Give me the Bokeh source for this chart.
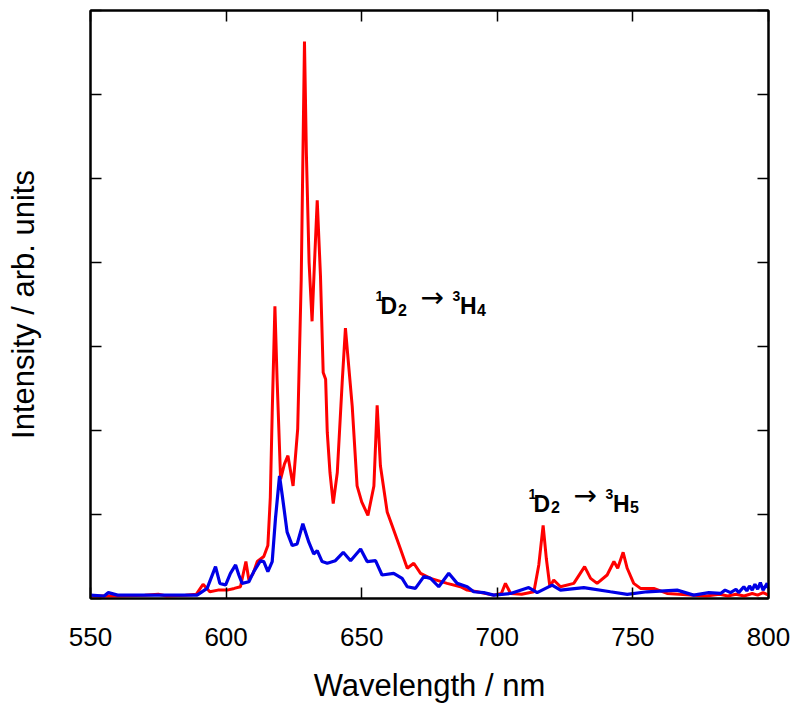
from bokeh.plotting import figure
from bokeh.models import Range1d, LinearAxis, FixedTicker, ColumnDataSource
from bokeh.embed import file_html
from bokeh.resources import INLINE

# ---- data ----
red_nm = [550, 560, 570, 575, 578, 585, 589, 591.5, 594, 597, 600.4, 603, 605.3, 607.3, 608.4,
          610, 611.5, 613.9, 615.4, 616.3, 617, 618, 618.8, 620.1, 621.5, 622.8, 624.7, 626.4,
          627.7, 628.9, 629.6, 630.6, 631.7, 632.6, 633.6, 634.8, 635.8, 636.7, 637.3, 638.3,
          639.5, 641, 642.8, 644.0, 645.2, 646.5, 648.3, 650, 652.3, 654.5, 655.7, 656.9, 659.4,
          661.2, 664.3, 666.8, 669.2, 671.7, 675.4, 681.5, 686.4, 688.9, 692.6, 698.6, 701.5,
          703, 704.9, 709, 713.5, 715.3, 716.9, 718.1, 719.4, 720.8, 723.3, 728.2, 732.2, 734.4,
          736.8, 740.5, 743, 744.4, 746.4, 747.9, 750.3, 752.8, 757.7, 762.6, 767, 772.4, 777,
          782, 785, 788, 791, 794, 796, 798, 800]
red_int = [0.03, 0.03, 0.04, 0.05, 0.03, 0.04, 0.05, 0.17, 0.08, 0.10, 0.10, 0.12, 0.14, 0.44, 0.22,
           0.30, 0.44, 0.50, 0.63, 1.20, 2.21, 3.48, 2.61, 1.42, 1.60, 1.70, 1.34, 2.02,
           3.80, 6.63, 5.30, 4.00, 3.30, 4.00, 4.74, 3.84, 2.69, 2.61, 1.98, 1.50,
           1.13, 1.50, 2.57, 3.22, 2.77, 2.29, 1.34, 1.15, 0.99, 1.34, 2.30, 1.58, 1.03,
           0.87, 0.59, 0.36, 0.42, 0.30, 0.24, 0.18, 0.14, 0.10, 0.08, 0.04, 0.06,
           0.18, 0.06, 0.05, 0.08, 0.40, 0.87, 0.47, 0.14, 0.22, 0.14, 0.18, 0.38, 0.24,
           0.18, 0.28, 0.44, 0.36, 0.55, 0.36, 0.18, 0.12, 0.12, 0.06, 0.05, 0.04, 0.03,
           0.05, 0.03, 0.05, 0.03, 0.06, 0.04, 0.07, 0.04]

blue_nm = [550, 555, 556.6, 560, 580, 589.3, 593, 596.1, 597.7, 599.8, 601.6, 603.5, 604.7, 605.9,
           608.4, 610.2, 612.7, 613.9, 615.4, 617, 618.2, 619.7, 620.7, 622.5, 624.4, 626.2,
           628.3, 630.5, 632.3, 633.6, 635.4, 637.3, 640.3, 643.2, 645.9, 649.6, 652, 655.1,
           657.5, 661.8, 664.9, 666.8, 669.8, 672.9, 675.4, 678.4, 682.1, 685.2, 688.9, 691.3,
           695, 698.7, 704.9, 711.6, 714.7, 720.2, 723.3, 731.9, 741.7, 747.9, 755.2, 766.3,
           772.4, 778, 782.3, 784, 786, 788, 789, 790.9, 792, 793, 794, 795, 796, 797, 798, 799.5, 800]
blue_int = [0.04, 0.03, 0.07, 0.04, 0.04, 0.04, 0.12, 0.38, 0.18, 0.16, 0.30, 0.40, 0.28, 0.18,
            0.20, 0.32, 0.45, 0.44, 0.32, 0.44, 0.95, 1.46, 1.23, 0.79, 0.63, 0.65,
            0.89, 0.67, 0.53, 0.57, 0.44, 0.42, 0.45, 0.55, 0.45, 0.59, 0.44, 0.45,
            0.28, 0.30, 0.24, 0.14, 0.12, 0.26, 0.24, 0.14, 0.30, 0.18, 0.14, 0.08,
            0.07, 0.04, 0.06, 0.13, 0.07, 0.16, 0.10, 0.13, 0.08, 0.05, 0.08, 0.10,
            0.04, 0.07, 0.06, 0.10, 0.07, 0.11, 0.07, 0.14, 0.09, 0.15, 0.10, 0.17, 0.11, 0.19,
            0.10, 0.18, 0.12]

x_ticks = [550, 600, 650, 700, 750, 800]
y_ticks = [0, 1, 2, 3, 4, 5, 6, 7]

# transition labels: anchor (nm, intensity) and final-state index
ann_anchor_x = [655.1, 711.5]
ann_anchor_y = [3.48, 1.13]
ann_upper = ["4", "5"]

FONT = "Liberation Sans"

p = figure(width=790, height=705, output_backend="svg", toolbar_location=None,
           x_range=Range1d(550, 800), y_range=Range1d(0, 7),
           min_border_left=90, min_border_right=22, min_border_top=10, min_border_bottom=105,
           x_axis_label="Wavelength / nm", y_axis_label="Intensity / arb. units")
p.grid.visible = False
p.outline_line_color = "black"
p.outline_line_width = 2
p.background_fill_color = "white"
p.border_fill_color = "white"

p.line(red_nm, red_int, line_color="#ff0000", line_width=3)
p.line(blue_nm, blue_int, line_color="#0000e6", line_width=3.2)


def style_axis(ax, labels=True):
    ax.major_tick_in = 11
    ax.major_tick_out = 0
    ax.minor_tick_line_color = None
    ax.axis_line_width = 2
    ax.axis_line_color = "black"
    ax.major_tick_line_width = 1.5
    ax.major_tick_line_color = "black"
    if labels:
        ax.major_label_text_font = FONT
        ax.major_label_text_font_size = "26px"
        ax.major_label_text_color = "black"
    else:
        ax.major_label_text_font_size = "1px"
        ax.major_label_text_color = None
        ax.major_label_standoff = 0
    ax.axis_label_text_font = FONT
    ax.axis_label_text_font_size = "31px"
    ax.axis_label_text_font_style = "normal"
    ax.axis_label_text_color = "black"


for ax in p.xaxis:
    ax.ticker = FixedTicker(ticks=x_ticks)
    style_axis(ax, True)
    ax.major_label_standoff = 29
    ax.axis_label_standoff = 19

for ax in p.yaxis:
    ax.ticker = FixedTicker(ticks=y_ticks)
    style_axis(ax, False)
    ax.axis_label_standoff = 50

top = LinearAxis(ticker=FixedTicker(ticks=x_ticks))
style_axis(top, False)
p.add_layout(top, "above")
right = LinearAxis(ticker=FixedTicker(ticks=y_ticks))
style_axis(right, False)
p.add_layout(right, "right")

# build the label pieces (text, font, size, style, screen offsets relative to anchor)
rows = dict(x=[], y=[], text=[], font=[], size=[], style=[], xo=[], yo=[], base=[])
for ax_, ay_, up in zip(ann_anchor_x, ann_anchor_y, ann_upper):
    pieces = [("1", FONT, "14px", "bold", 0, -10, "alphabetic"),
              ("D", FONT, "23px", "bold", 5, 0, "alphabetic"),
              ("2", FONT, "16px", "bold", 22.5, 3.5, "alphabetic"),
              ("\u2192", "DejaVu Sans", "28px", "normal", 45, -8.5, "middle"),
              ("3", FONT, "14px", "bold", 77, -10, "alphabetic"),
              ("H", FONT, "23px", "bold", 84.5, 0, "alphabetic"),
              (up, FONT, "16px", "bold", 101.5, 3.5, "alphabetic")]
    for t, f, s, st, xo, yo, b in pieces:
        rows["x"].append(ax_)
        rows["y"].append(ay_)
        rows["text"].append(t)
        rows["font"].append(f)
        rows["size"].append(s)
        rows["style"].append(st)
        rows["xo"].append(xo)
        rows["yo"].append(yo)
        rows["base"].append(b)

src = ColumnDataSource(rows)
p.text(x="x", y="y", text="text", source=src, text_font="font", text_font_size="size",
       text_font_style="style", x_offset="xo", y_offset="yo", text_baseline="base",
       text_align="left", text_color="black")

open("out.html", "w").write(file_html(p, INLINE))
